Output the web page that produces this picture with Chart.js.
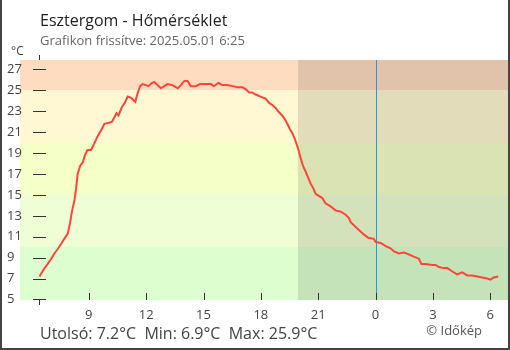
<!DOCTYPE html>
<html>
<head>
<meta charset="utf-8">
<script src="https://cdn.jsdelivr.net/npm/chart.js@4/dist/chart.umd.min.js"></script>
<style>
  body { margin: 0; background: #fff; }
  #wrap { width: 510px; height: 350px; }
</style>
</head>
<body>
<div id="wrap"><canvas id="tempChart" width="510" height="350"></canvas></div>
<script>
// Measurement times (clock) and temperatures in °C
const times = ['6:25','6:41','6:51','7:02','7:12','7:22','7:33','7:43','7:54','8:01','8:07','8:15','8:20','8:25','8:33','8:41','8:48','8:56',
  '9:07','9:17','9:26','9:33','9:41','9:49','10:04','10:13','10:20','10:27','10:33','10:44','10:53','11:02','11:12','11:26','11:33','11:41','11:49','11:59',
  '12:07','12:18','12:25','12:36','12:46','12:57','13:07','13:23','13:39','13:49','14:00','14:10','14:20','14:36','14:49','15:07','15:23','15:33','15:47','15:59',
  '16:15','16:31','16:46','17:02','17:13','17:23','17:33','17:44','17:59','18:15','18:26','18:36','18:47','18:57','19:07','19:16','19:23','19:31','19:39','19:46','19:53',
  '20:00','20:05','20:12','20:21','20:29','20:36','20:45','20:52','21:02','21:13','21:23','21:39','21:55','22:11','22:26','22:36','22:42','22:52',
  '23:02','23:13','23:24','23:37','23:55','0:00','0:16','0:32','0:47','0:58','1:13','1:29','1:45','2:00','2:16','2:24','2:37','2:58',
  '3:08','3:19','3:34','3:45','4:00','4:16','4:32','4:48','5:03','5:19','5:35','5:50','6:01','6:11','6:25'];
const temps = [7.2,8.0,8.4,8.9,9.4,9.8,10.3,10.8,11.3,12.3,13.4,14.5,15.6,17.0,17.8,18.1,18.8,19.3,
  19.3,19.9,20.5,20.9,21.3,21.8,21.9,22.0,22.4,22.8,22.6,23.4,23.8,24.4,24.3,23.9,24.7,25.4,25.6,25.5,
  25.4,25.7,25.8,25.5,25.2,25.4,25.6,25.5,25.2,25.5,25.9,25.9,25.4,25.4,25.6,25.6,25.6,25.4,25.7,25.5,
  25.5,25.4,25.3,25.3,25.1,24.8,24.8,24.6,24.4,24.2,23.8,23.6,23.3,22.9,22.6,22.2,21.8,21.3,20.9,20.4,19.8,
  19.1,18.5,17.8,17.2,16.6,16.1,15.6,15.1,14.9,14.7,14.2,13.9,13.5,13.4,13.1,12.8,12.4,12.1,
  11.8,11.5,11.2,10.9,10.8,10.5,10.4,10.1,9.9,9.6,9.4,9.5,9.3,9.1,8.9,8.4,8.4,8.3,
  8.3,8.1,8.0,8.0,7.7,7.4,7.6,7.3,7.3,7.2,7.1,7.0,6.9,7.1,7.2];

const xTicks = [9, 12, 15, 18, 21, 24, 27, 30];
const yTicks = [5, 7, 9, 11, 13, 15, 17, 19, 21, 23, 25, 27];
const bandEdges = [-50, 10, 15, 20, 25, 50];
const bandColors = ['#ddffd0', '#effed4', '#f5ffc8', '#fff8d2', '#fddcc0'];
const nightStart = '19:57';
const midnightHour = 24;

const title = 'Esztergom - Hőmérséklet';
const subtitle = 'Grafikon frissítve: 2025.05.01 6:25';
const footer = 'Utolsó: 7.2°C  Min: 6.9°C  Max: 25.9°C';
const credit = '© Időkép';

// clock string -> hours since first midnight, rolling over to next day
function toHours(list) {
  let day = 0, prev = -1;
  return list.map(s => {
    const p = s.split(':');
    let h = +p[0] + p[1] / 60;
    if (h + day < prev) day += 24;
    prev = h + day;
    return h + day;
  });
}
const hours = toHours(times);
const points = hours.map((h, i) => ({ x: h, y: temps[i] }));
const nightHour = toHours([nightStart])[0];

const FONT = '"Open Sans", "Noto Sans", sans-serif';

const decor = {
  id: 'decor',
  beforeDatasetsDraw(chart) {
    const ctx = chart.ctx;
    const a = chart.chartArea;
    const xs = chart.scales.x, ys = chart.scales.y;
    const axisX = xs.getPixelForValue(hours[0]);
    ctx.save();
    // y axis line (mostly hidden by bands)
    ctx.fillStyle = '#333';
    ctx.fillRect(Math.round(axisX), a.top - 5, 1, a.bottom - a.top + 10);
    // temperature bands
    for (let i = 0; i < bandColors.length; i++) {
      const y1 = Math.max(a.top, ys.getPixelForValue(bandEdges[i + 1]));
      const y2 = Math.min(a.bottom, ys.getPixelForValue(bandEdges[i]));
      ctx.fillStyle = bandColors[i];
      ctx.fillRect(a.left, Math.round(y1), a.right - a.left, Math.round(y2) - Math.round(y1));
    }
    // night shading
    const nx = Math.round(xs.getPixelForValue(nightHour));
    ctx.fillStyle = 'rgba(0,0,0,0.11)';
    ctx.fillRect(nx, a.top, a.right - nx, a.bottom - a.top);
    // midnight marker
    ctx.fillStyle = '#2196f3';
    ctx.fillRect(Math.round(xs.getPixelForValue(midnightHour)), a.top, 1, a.bottom - a.top);
    // y ticks
    ctx.fillStyle = '#333';
    yTicks.forEach(v => {
      const y = Math.round(ys.getPixelForValue(v));
      ctx.fillRect(Math.round(axisX) - 6, y, 13, 1);
    });
    // x ticks
    xTicks.forEach(v => {
      const x = Math.round(xs.getPixelForValue(v));
      ctx.fillRect(x, a.bottom - 7, 1, 7);
    });
    ctx.restore();
  },
  afterDraw(chart) {
    const ctx = chart.ctx;
    const xs = chart.scales.x, ys = chart.scales.y;
    ctx.save();
    ctx.textAlign = 'left';
    ctx.textBaseline = 'alphabetic';
    ctx.fillStyle = '#222';
    ctx.font = '16px ' + FONT;
    ctx.fillText(title, 40, 26);
    ctx.fillStyle = '#666';
    ctx.font = '13px ' + FONT;
    ctx.fillText(subtitle, 40, 45);
    ctx.fillStyle = '#444';
    ctx.font = '12px ' + FONT;
    ctx.fillText('°C', 11, 55);
    // y tick labels
    ctx.font = '13px ' + FONT;
    ctx.textBaseline = 'middle';
    yTicks.forEach(v => ctx.fillText(String(v), 7, ys.getPixelForValue(v)));
    // x tick labels
    ctx.textAlign = 'center';
    xTicks.forEach(v => ctx.fillText(String(v % 24), xs.getPixelForValue(v), 315));
    // footer
    ctx.textAlign = 'left';
    ctx.textBaseline = 'alphabetic';
    ctx.font = '16px ' + FONT;
    ctx.fillText(footer, 40, 339);
    ctx.textAlign = 'right';
    ctx.font = '13px ' + FONT;
    ctx.fillStyle = '#555';
    ctx.fillText(credit, 482, 335);
    // frame
    ctx.fillStyle = '#444';
    ctx.fillRect(0, 0, 2, 350);
    ctx.fillRect(508, 0, 2, 350);
    ctx.fillRect(0, 348, 510, 2);
    ctx.restore();
  }
};

new Chart(document.getElementById('tempChart'), {
  type: 'line',
  data: {
    datasets: [{
      data: points,
      borderColor: '#ff4438',
      borderWidth: 2,
      pointRadius: 0,
      tension: 0,
      fill: false
    }]
  },
  options: {
    responsive: false,
    animation: false,
    layout: { padding: { left: 20, top: 60, right: 2, bottom: 50 } },
    scales: {
      x: { type: 'linear', min: 5.4, max: 30.93, display: false },
      y: { type: 'linear', min: 4.95, max: 27.9, display: false }
    },
    plugins: {
      legend: { display: false },
      tooltip: { enabled: false }
    }
  },
  plugins: [decor]
});
</script>
</body>
</html>
